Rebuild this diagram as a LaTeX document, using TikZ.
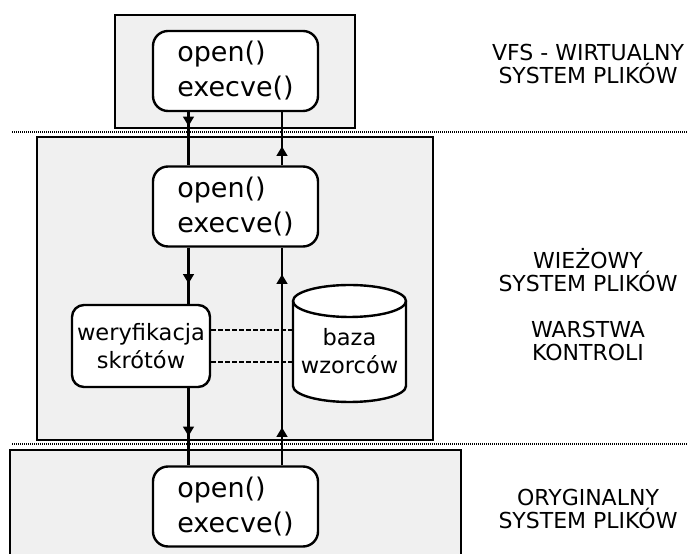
\documentclass[tikz,border=0pt]{standalone}
\usepackage{fontspec}
\setmainfont{DejaVu Sans}
\usetikzlibrary{arrows.meta,decorations.markings,calc}

\begin{document}
\begin{tikzpicture}[
    x=1pt, y=1pt,
    layerbox/.style={draw=black, fill=black!6, line width=1.5pt},
    callbox/.style={draw=black, fill=white, rounded corners=15pt, line width=2.4pt, minimum width=165pt, minimum height=80pt, align=left, font=\fontsize{27}{35}\selectfont},
    checkbox/.style={draw=black, fill=white, rounded corners=12pt, line width=2.4pt, minimum width=138pt, minimum height=82pt, inner sep=2pt, align=center, font=\fontsize{22.5}{28}\selectfont},
    dbshape/.style={draw=black, fill=white, line width=2.4pt},
    layerlabel/.style={align=center, font=\fontsize{22}{23}\selectfont},
    sepline/.style={line width=1.1pt, dash pattern=on 1pt off 1pt},
    flow/.style={line width=2.3pt},
    tipat/.style={postaction={decorate, decoration={markings, mark=at position #1 with {\arrow{Triangle[width=10.5pt,length=9.5pt]}}}}},
    link/.style={line width=1.4pt, dash pattern=on 4.5pt off 2.5pt}
]
\useasboundingbox (0,0) rectangle (688,554);
\clip (0,0) rectangle (688,554);

% Layer backgrounds
\draw[layerbox] (115,426) rectangle (355,539);
\draw[layerbox] (37,114) rectangle (433,417);
\draw[layerbox] (10,-5) rectangle (461,104);

% Separators between layers
\draw[sepline] (12,422) -- (688,422);
\draw[sepline] (12,110) -- (688,110);

% System calls in each layer
\node[callbox] (vfs) at (235.5,483) {open()\\execve()};
\node[callbox] (ctl) at (235.5,347.5) {open()\\execve()};
\node[callbox] (orig) at (235.5,47.5) {open()\\execve()};

% Control layer
\node[checkbox] (ver) at (141,208) {weryfikacja\\skrótów};

% Pattern store (cylinder)
\coordinate (dbc) at (349.5,202.5);
\filldraw[dbshape] ($(dbc)+(-56.5,50.5)$) -- ($(dbc)+(-56.5,-34.5)$)
    arc[start angle=180, end angle=360, x radius=56.5, y radius=16]
    -- ($(dbc)+(56.5,50.5)$)
    arc[start angle=0, end angle=180, x radius=56.5, y radius=16] -- cycle;
\draw[dbshape, fill=none] ($(dbc)+(-56.5,50.5)$) arc[start angle=180, end angle=360, x radius=56.5, y radius=16];
\node[minimum width=113pt, minimum height=101pt, inner sep=0pt, align=center, font=\fontsize{22.5}{28}\selectfont] (db) at (dbc) {baza\\wzorców};

% Call flow
\coordinate (downx) at (188.5,0);
\coordinate (upx) at (282,0);
\draw[flow, tipat=14pt] (vfs.south -| downx) -- (ctl.north -| downx);
\draw[flow, tipat=19pt] (ctl.north -| upx) -- (vfs.south -| upx);
\draw[flow, tipat=36pt] (ctl.south -| downx) -- (ver.north -| downx);
\draw[flow, tipat=48pt] (ver.south -| downx) -- (orig.north -| downx);
\draw[flow, tipat=38pt, tipat=191pt] (orig.north -| upx) -- (ctl.south -| upx);

% Lookup in the pattern store
\coordinate (d1) at ([yshift=16pt]ver.east);
\coordinate (d2) at ([yshift=-16pt]ver.east);
\draw[link] (d1) -- (d1 -| db.west);
\draw[link] (d2) -- (d2 -| db.west);

% Layer names
\node[layerlabel] (vfslabel) at (588,490) {VFS - WIRTUALNY\\SYSTEM PLIKÓW};
\node[layerlabel] (towerlabel) at (588,249) {WIEŻOWY\\SYSTEM PLIKÓW\\[23pt]WARSTWA\\KONTROLI};
\node[layerlabel] (origlabel) at (588,45.5) {ORYGINALNY\\SYSTEM PLIKÓW};

\end{tikzpicture}
\end{document}
